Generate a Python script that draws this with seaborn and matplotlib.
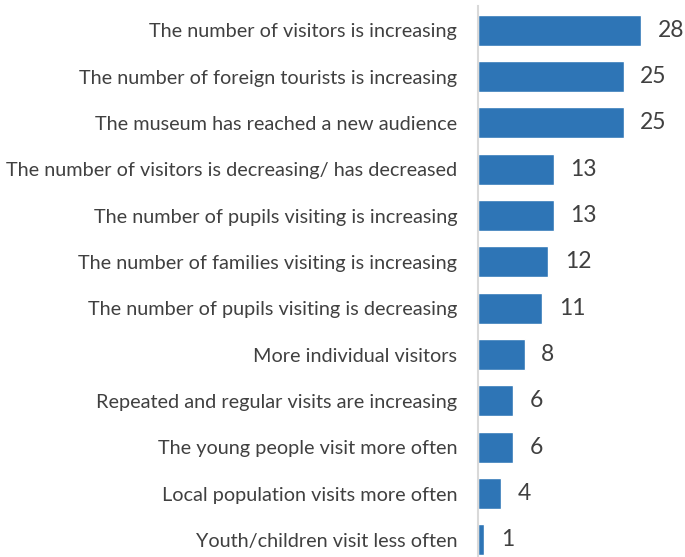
import pandas as pd
import matplotlib.pyplot as plt
import seaborn as sns

labels = ['The number of visitors is increasing',
          'The number of foreign tourists is increasing',
          'The museum has reached a new audience',
          'The number of visitors is decreasing/ has decreased',
          'The number of pupils visiting is increasing',
          'The number of families visiting is increasing',
          'The number of pupils visiting is decreasing',
          'More individual visitors',
          'Repeated and regular visits are increasing',
          'The young people visit more often',
          'Local population visits more often',
          'Youth/children visit less often']
values = [28, 25, 25, 13, 13, 12, 11, 8, 6, 6, 4, 1]

df = pd.DataFrame({'label': labels, 'value': values})

sns.set_style('white')
plt.rcParams['font.family'] = ['Lato', 'DejaVu Sans']

fig = plt.figure(figsize=(6.85, 5.57), dpi=100)
ax = fig.add_axes([0.698, 0.0, 0.26, 0.989])
sns.barplot(data=df, x='value', y='label', orient='h', color='#2E75B6',
            saturation=1, width=0.67, ax=ax)
ax.bar_label(ax.containers[0], padding=12, fontsize=16.5, color='#404040')

ax.set_xlim(0, 30.6)
ax.set_ylim(11.37, -0.52)
ax.set_xlabel('')
ax.set_ylabel('')
ax.set_xticks([])
ax.tick_params(axis='y', length=0, pad=15, labelsize=14.3, labelcolor='#404040')
for s in ['top', 'right', 'bottom']:
    ax.spines[s].set_visible(False)
ax.spines['left'].set_color('#D9D9D9')
ax.spines['left'].set_linewidth(1.5)

fig.savefig('out.png', dpi=100)
